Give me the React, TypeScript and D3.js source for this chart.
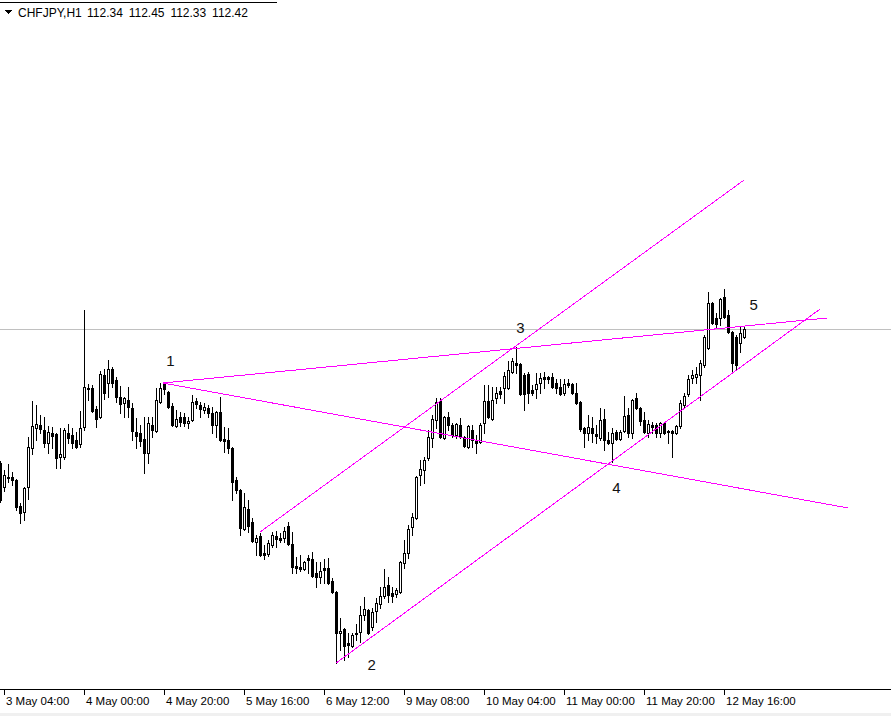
import * as d3 from 'd3'

// Hourly CHFJPY candles, 3 May 03:00 .. 12 May 21:00 (weekend skipped)
const OPEN = [
  111.08, 110.84, 110.94, 110.94, 110.91, 110.65, 110.59, 110.84, 111.23, 111.43,
  111.46, 111.41, 111.28, 111.38, 111.37, 111.14, 111.14, 111.38, 111.36, 111.31,
  111.27, 111.44, 111.83, 111.83, 111.62, 111.54, 111.96, 111.88, 112.02, 111.91,
  111.74, 111.68, 111.71, 111.63, 111.39, 111.38, 111.32, 111.18, 111.46, 111.40,
  111.69, 111.87, 111.79, 111.65, 111.45, 111.54, 111.54, 111.48, 111.51, 111.70,
  111.66, 111.61, 111.63, 111.58, 111.46, 111.59, 111.32, 111.31, 111.23, 110.91,
  110.81, 110.42, 110.62, 110.49, 110.29, 110.35, 110.18, 110.17, 110.26, 110.35,
  110.33, 110.33, 110.45, 110.27, 110.05, 110.04, 110.02, 110.13, 110.12, 109.98,
  109.94, 110.03, 110.03, 109.90, 109.79, 109.38, 109.42, 109.28, 109.25, 109.38,
  109.39, 109.56, 109.61, 109.44, 109.60, 109.67, 109.75, 109.86, 109.78, 109.77,
  109.79, 110.08, 110.18, 110.44, 110.53, 110.96, 111.01, 111.13, 111.33, 111.51,
  111.70, 111.33, 111.54, 111.46, 111.36, 111.46, 111.34, 111.24, 111.41, 111.31,
  111.29, 111.48, 111.70, 111.52, 111.73, 111.80, 111.83, 111.83, 111.99, 112.08,
  112.07, 111.96, 111.97, 111.81, 111.82, 111.88, 111.94, 111.94, 111.94, 111.88,
  111.84, 111.78, 111.88, 111.87, 111.78, 111.69, 111.43, 111.38, 111.43, 111.37,
  111.33, 111.52, 111.31, 111.28, 111.39, 111.32, 111.40, 111.56, 111.38, 111.73,
  111.63, 111.51, 111.38, 111.46, 111.46, 111.38, 111.48, 111.40, 111.40, 111.38,
  111.45, 111.66, 111.77, 111.93, 111.94, 111.96, 112.06, 112.23, 112.68, 112.53,
  112.53, 112.74, 112.56, 112.39, 112.34, 112.28, 112.34,
]
const HIGH = [
  111.10, 111.01, 111.07, 110.99, 110.92, 110.68, 110.84, 111.34, 111.70, 111.66,
  111.56, 111.54, 111.45, 111.44, 111.38, 111.43, 111.43, 111.47, 111.43, 111.39,
  111.60, 112.61, 111.87, 111.86, 111.65, 112.00, 112.02, 112.11, 112.04, 111.94,
  111.85, 111.74, 111.84, 111.68, 111.53, 111.46, 111.54, 111.54, 111.54, 111.83,
  111.88, 111.88, 111.80, 111.68, 111.61, 111.59, 111.58, 111.54, 111.76, 111.73,
  111.69, 111.68, 111.66, 111.64, 111.60, 111.74, 111.44, 111.43, 111.24, 110.94,
  110.82, 110.78, 110.71, 110.53, 110.36, 110.38, 110.26, 110.31, 110.39, 110.40,
  110.38, 110.44, 110.49, 110.39, 110.14, 110.16, 110.10, 110.16, 110.19, 110.09,
  110.09, 110.12, 110.13, 109.93, 109.80, 109.53, 109.43, 109.38, 109.38, 109.47,
  109.65, 109.74, 109.62, 109.63, 109.73, 109.84, 110.02, 109.94, 109.84, 109.83,
  110.10, 110.31, 110.46, 110.58, 110.95, 111.11, 111.14, 111.41, 111.56, 111.73,
  111.73, 111.55, 111.59, 111.48, 111.48, 111.53, 111.35, 111.46, 111.46, 111.36,
  111.48, 111.86, 111.86, 111.84, 111.84, 111.84, 111.99, 112.10, 112.13, 112.24,
  112.08, 111.98, 111.99, 111.86, 111.98, 111.98, 111.99, 111.95, 111.98, 111.92,
  111.92, 111.92, 111.92, 111.88, 111.88, 111.70, 111.44, 111.56, 111.54, 111.46,
  111.63, 111.62, 111.39, 111.43, 111.41, 111.41, 111.75, 111.63, 111.72, 111.78,
  111.64, 111.59, 111.51, 111.49, 111.48, 111.49, 111.49, 111.41, 111.41, 111.46,
  111.71, 111.78, 111.96, 112.01, 112.04, 112.11, 112.36, 112.79, 112.69, 112.58,
  112.73, 112.82, 112.61, 112.40, 112.36, 112.44, 112.45,
]
const LOW = [
  110.69, 110.80, 110.89, 110.86, 110.61, 110.48, 110.51, 110.72, 111.17, 111.31,
  111.38, 111.24, 111.18, 111.23, 111.03, 111.03, 111.12, 111.28, 111.23, 111.23,
  111.24, 111.41, 111.71, 111.59, 111.44, 111.53, 111.72, 111.74, 111.84, 111.69,
  111.58, 111.54, 111.54, 111.31, 111.23, 111.25, 110.98, 111.08, 111.34, 111.39,
  111.68, 111.77, 111.63, 111.45, 111.44, 111.45, 111.45, 111.43, 111.50, 111.63,
  111.54, 111.58, 111.54, 111.38, 111.34, 111.30, 111.19, 111.18, 110.71, 110.78,
  110.36, 110.41, 110.39, 110.29, 110.16, 110.15, 110.12, 110.15, 110.24, 110.24,
  110.29, 110.29, 110.26, 109.98, 109.98, 110.00, 110.01, 109.98, 109.94, 109.84,
  109.88, 109.88, 109.87, 109.78, 109.08, 109.21, 109.11, 109.14, 109.24, 109.31,
  109.29, 109.51, 109.37, 109.41, 109.49, 109.63, 109.73, 109.69, 109.69, 109.74,
  109.78, 110.03, 110.13, 110.36, 110.52, 110.86, 110.88, 111.11, 111.24, 111.43,
  111.33, 111.32, 111.41, 111.34, 111.33, 111.33, 111.24, 111.23, 111.24, 111.18,
  111.28, 111.38, 111.53, 111.51, 111.68, 111.73, 111.68, 111.82, 111.98, 111.98,
  111.76, 111.61, 111.68, 111.76, 111.73, 111.78, 111.83, 111.88, 111.83, 111.78,
  111.76, 111.76, 111.84, 111.77, 111.67, 111.40, 111.24, 111.31, 111.29, 111.28,
  111.31, 111.21, 111.27, 111.09, 111.31, 111.31, 111.39, 111.34, 111.33, 111.62,
  111.46, 111.38, 111.34, 111.38, 111.34, 111.34, 111.37, 111.28, 111.14, 111.37,
  111.43, 111.64, 111.75, 111.88, 111.88, 111.71, 112.04, 112.22, 112.47, 112.44,
  112.46, 112.53, 112.38, 111.99, 112.01, 112.19, 112.33,
]
const CLOSE = [
  110.71, 110.96, 110.93, 110.91, 110.64, 110.58, 110.83, 111.24, 111.45, 111.47,
  111.42, 111.28, 111.39, 111.35, 111.13, 111.17, 111.41, 111.33, 111.28, 111.24,
  111.43, 111.84, 111.82, 111.60, 111.52, 111.97, 111.78, 112.02, 111.88, 111.74,
  111.67, 111.73, 111.64, 111.40, 111.35, 111.30, 111.18, 111.48, 111.41, 111.71,
  111.83, 111.82, 111.64, 111.46, 111.52, 111.49, 111.48, 111.50, 111.69, 111.67,
  111.62, 111.64, 111.58, 111.46, 111.59, 111.31, 111.30, 111.23, 110.89, 110.81,
  110.43, 110.64, 110.45, 110.30, 110.33, 110.16, 110.16, 110.28, 110.36, 110.32,
  110.31, 110.40, 110.27, 110.04, 110.03, 110.02, 110.09, 110.11, 109.95, 109.94,
  110.00, 110.01, 109.88, 109.79, 109.38, 109.40, 109.25, 109.26, 109.36, 109.37,
  109.56, 109.62, 109.38, 109.59, 109.68, 109.75, 109.84, 109.76, 109.75, 109.81,
  110.09, 110.18, 110.42, 110.54, 110.94, 111.02, 111.11, 111.34, 111.52, 111.69,
  111.34, 111.54, 111.46, 111.36, 111.47, 111.34, 111.25, 111.45, 111.31, 111.28,
  111.46, 111.70, 111.54, 111.71, 111.78, 111.77, 111.95, 112.01, 112.10, 112.06,
  111.77, 111.77, 111.78, 111.78, 111.87, 111.93, 111.92, 111.92, 111.84, 111.83,
  111.77, 111.87, 111.86, 111.78, 111.68, 111.42, 111.38, 111.44, 111.38, 111.35,
  111.51, 111.31, 111.28, 111.38, 111.32, 111.39, 111.55, 111.38, 111.71, 111.63,
  111.50, 111.39, 111.47, 111.44, 111.38, 111.48, 111.38, 111.39, 111.38, 111.45,
  111.68, 111.75, 111.92, 111.96, 111.97, 112.08, 112.34, 112.68, 112.48, 112.47,
  112.72, 112.54, 112.39, 112.08, 112.06, 112.38, 112.42,
]

const TICK_INDEX = [1, 21, 41, 61, 81, 101, 121, 141, 161, 181]
const TICK_LABELS = [
  '3 May 04:00', '4 May 00:00', '4 May 20:00', '5 May 16:00', '6 May 12:00',
  '9 May 08:00', '10 May 04:00', '11 May 00:00', '11 May 20:00', '12 May 16:00',
]

const SYMBOL = 'CHFJPY,H1'
const LAST_OHLC = ['112.34', '112.45', '112.33', '112.42']
const BID = 112.42

// trendlines as [bar index, price] end points
const TRENDLINES: [number, number][][] = [
  [[40.6, 111.88], [206.6, 112.53]],
  [[40.6, 111.88], [211.9, 110.63]],
  [[64.9, 110.39], [185.9, 113.91]],
  [[83.9, 109.08], [204.9, 112.62]],
]
const WAVE_TEXT = ['1', '2', '3', '4', '5']
const WAVE_AT: [number, number][] = [
  [42.6, 112.05], [92.9, 109.01], [130.1, 112.38], [154.1, 110.78], [188.4, 112.61],
]

const W = 891
const H = 716
const AXIS_Y = 689

export default function App() {
  const x = d3.scaleLinear().domain([0, 186]).range([0, 744])
  const y = d3.scaleLinear().domain([109, 113]).range([671, 271])
  const py = (v: number) => Math.round(y(v))

  const candles = OPEN.map((o, i) => {
    const c = CLOSE[i]
    const px = Math.round(x(i))
    const top = py(Math.max(o, c))
    const bot = py(Math.min(o, c))
    const up = c > o
    return (
      <g key={i}>
        <rect x={px} y={py(HIGH[i])} width={1} height={py(LOW[i]) - py(HIGH[i]) + 1} fill="#000" />
        {up ? (
          <rect x={px - 0.5} y={top + 0.5} width={2} height={Math.max(bot - top, 0)} fill="#fff" stroke="#000" strokeWidth={1} />
        ) : (
          <rect x={px - 1} y={top} width={3} height={bot - top + 1} fill="#000" />
        )}
      </g>
    )
  })

  return (
    <svg width={W} height={H} style={{ position: 'absolute', left: 0, top: 0, background: '#fff' }}
      shapeRendering="crispEdges" fontFamily="'Liberation Sans', Arial, sans-serif">
      <rect x={0} y={0} width={W} height={H} fill="#fff" />
      <rect x={0} y={713} width={W} height={3} fill="#f0f0f0" />

      {/* header */}
      <line x1={0} x2={277} y1={2.5} y2={2.5} stroke="#000" />
      <path d="M4,10 L12,10 L8,14 Z" fill="#000" />
      <text x={18} y={17} fontSize={12} fill="#000">{SYMBOL}</text>
      {LAST_OHLC.map((v, i) => (
        <text key={v + i} x={87 + i * 41.7} y={17} fontSize={12} fill="#000">{v}</text>
      ))}

      {/* bid line */}
      <line x1={0} x2={W} y1={py(BID) + 0.5} y2={py(BID) + 0.5} stroke="#c0c0c0" />

      {candles}

      {/* trendlines */}
      {TRENDLINES.map((ln, i) => (
        <line key={i} x1={x(ln[0][0]) + 0.5} y1={y(ln[0][1])} x2={x(ln[1][0]) + 0.5} y2={y(ln[1][1])}
          stroke="#ff00ff" strokeWidth={1} />
      ))}

      {WAVE_TEXT.map((t, i) => (
        <text key={t} x={x(WAVE_AT[i][0])} y={y(WAVE_AT[i][1])} fontSize={15} textAnchor="middle" fill="#111">{t}</text>
      ))}

      {/* time axis */}
      <line x1={0} x2={W} y1={AXIS_Y + 0.5} y2={AXIS_Y + 0.5} stroke="#000" />
      {TICK_INDEX.map((k, i) => (
        <g key={k}>
          <line x1={x(k) + 0.5} x2={x(k) + 0.5} y1={AXIS_Y} y2={AXIS_Y + 6} stroke="#000" />
          <text x={x(k) + 2} y={AXIS_Y + 16} fontSize={11.5} fill="#000">{TICK_LABELS[i]}</text>
        </g>
      ))}
    </svg>
  )
}
